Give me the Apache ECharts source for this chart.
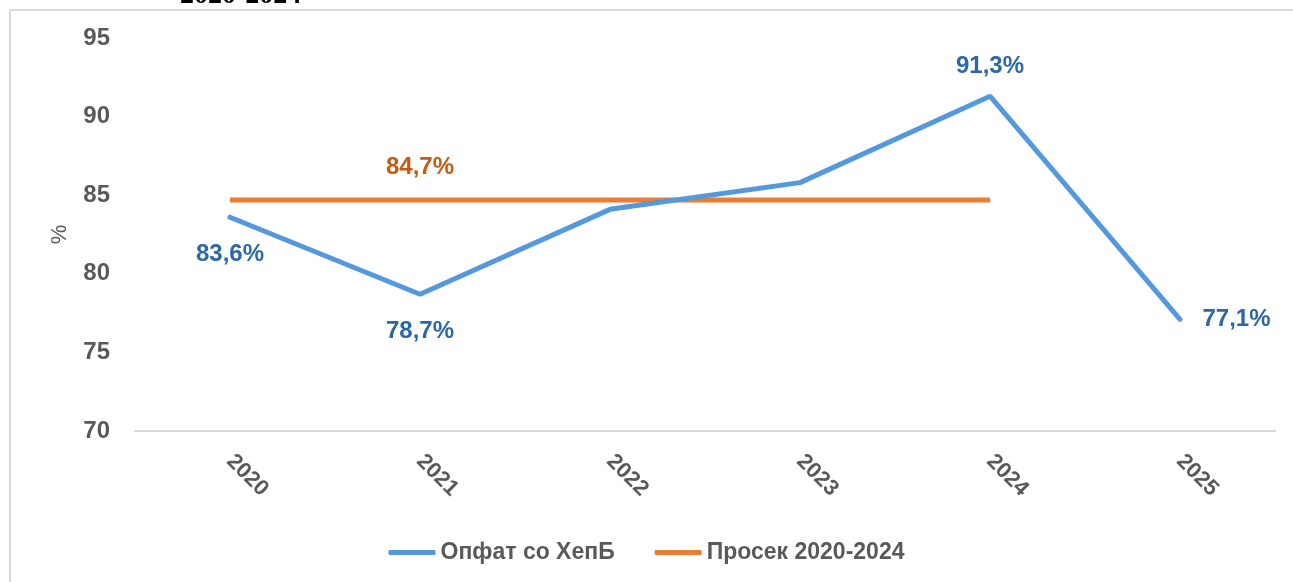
<!DOCTYPE html>
<html>
<head>
<meta charset="utf-8">
<script src="https://cdn.jsdelivr.net/npm/echarts@6/dist/echarts.min.js"></script>
<style>
  html, body { margin: 0; padding: 0; background: #fff; }
  #chart { width: 1293px; height: 582px; }
</style>
</head>
<body>
<div id="chart"></div>
<script>
// data
const years = ["2020", "2021", "2022", "2023", "2024", "2025"];
const coverage = [83.6, 78.7, 84.1, 85.8, 91.3, 77.1];
const average = [84.7, 84.7, 84.7, 84.7, 84.7, null];
const yTicks = [70, 75, 80, 85, 90, 95];

const blue = "#5599dd";
const orange = "#ed7d31";
const gray = "#595959";
const sans = '"Liberation Sans", Arial, sans-serif';

// which points get a value label, and where
const coverageLabelPos = { 0: "bottom", 1: "bottom", 4: "top", 5: "right" };
const coverageLabelDist = { 0: 25, 1: 25, 4: 17, 5: 22 };

function fmt(v) {
  return v.toFixed(1).replace(".", ",") + "%";
}

const coverageData = coverage.map((v, i) => {
  const pos = coverageLabelPos[i];
  return {
    value: v,
    label: pos
      ? { show: true, position: pos, distance: coverageLabelDist[i] }
      : { show: false }
  };
});

const averageData = average.map((v, i) => ({
  value: v,
  label: { show: i === 1, position: "top", distance: 20 }
}));

const chart = echarts.init(document.getElementById("chart"));
chart.setOption({
  animation: false,
  grid: { left: 135, right: 18, top: 38, bottom: 151, containLabel: false },
  graphic: [
    { type: "line", shape: { x1: 10, y1: 10, x2: 1293, y2: 10 }, style: { stroke: "#d9d9d9", lineWidth: 2 } },
    { type: "line", shape: { x1: 10, y1: 10, x2: 10, y2: 582 }, style: { stroke: "#d9d9d9", lineWidth: 2 } },
    {
      type: "text", left: 180, top: -18,
      style: { text: "2020-2024", font: 'bold 28px "Liberation Serif", serif', fill: "#000" }
    }
  ],
  legend: {
    bottom: 13,
    left: "center",
    icon: "roundRect",
    itemWidth: 47,
    itemHeight: 5,
    itemGap: 40,
    textStyle: { color: gray, fontSize: 23, fontWeight: "bold", fontFamily: sans },
    data: ["Опфат со ХепБ", "Просек 2020-2024"]
  },
  xAxis: {
    type: "category",
    data: years,
    boundaryGap: true,
    axisLine: { lineStyle: { color: "#d9d9d9", width: 2 } },
    axisTick: { show: false },
    axisLabel: {
      rotate: -45,
      margin: 27,
      color: gray,
      fontSize: 22,
      fontWeight: "bold",
      fontFamily: sans
    }
  },
  yAxis: {
    type: "value",
    min: yTicks[0],
    max: yTicks[yTicks.length - 1],
    interval: 5,
    name: "%",
    nameLocation: "middle",
    nameGap: 64,
    nameTextStyle: { color: gray, fontSize: 22, fontFamily: sans },
    splitLine: { show: false },
    axisLine: { show: false },
    axisTick: { show: false },
    axisLabel: {
      margin: 25,
      color: gray,
      fontSize: 24,
      fontWeight: "bold",
      fontFamily: sans
    }
  },
  series: [
    {
      name: "Опфат со ХепБ",
      type: "line",
      data: coverageData,
      symbol: "circle",
      symbolSize: 1,
      lineStyle: { color: blue, width: 5, cap: "round" },
      itemStyle: { color: blue },
      label: {
        color: "#2b68a8",
        fontSize: 24,
        fontWeight: "bold",
        fontFamily: sans,
        formatter: p => fmt(p.value)
      },
      z: 3
    },
    {
      name: "Просек 2020-2024",
      type: "line",
      data: averageData,
      symbol: "circle",
      symbolSize: 1,
      lineStyle: { color: orange, width: 5 },
      itemStyle: { color: orange },
      label: {
        color: "#c55a11",
        fontSize: 24,
        fontWeight: "bold",
        fontFamily: sans,
        formatter: p => fmt(p.value)
      },
      z: 2
    }
  ]
});
</script>
</body>
</html>
